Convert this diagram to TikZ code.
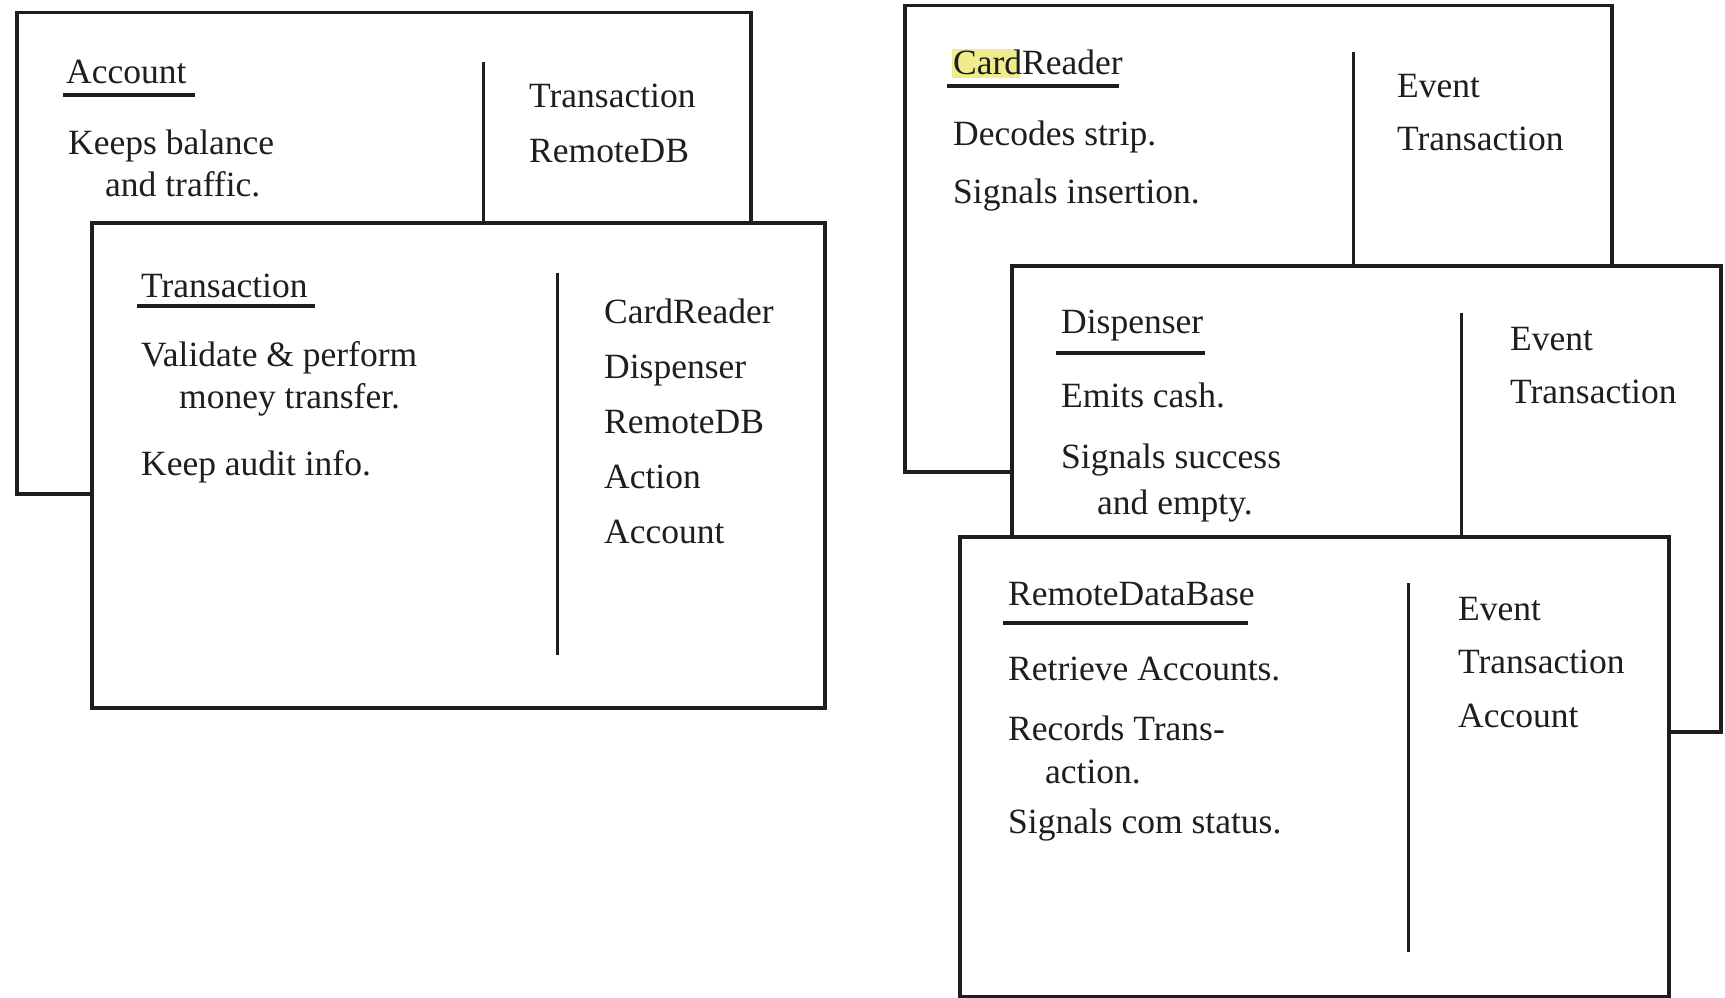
\documentclass[tikz,border=0pt]{standalone}
\usepackage{fontspec}
\setmainfont{Liberation Serif}
\definecolor{hilite}{HTML}{EEEC8C}
\definecolor{ink}{HTML}{1E1E1E}
\begin{document}
\begin{tikzpicture}[x=1pt,y=-1pt,
  card/.style={draw=ink,fill=white,line width=3.5pt,inner sep=0pt,anchor=north west},
  divider/.style={draw=ink,line width=3pt},
  uline/.style={draw=ink,line width=3.6pt},
  txt/.style={anchor=base west,inner sep=0pt,text=ink,font=\fontsize{35.5}{42}\selectfont}]
\useasboundingbox (0,0) rectangle (1725,998);
\fill[white] (0,0) rectangle (1725,998);

% ---------- Account card ----------
\node[card,minimum width=734pt,minimum height=481pt] (acc) at (15,11) {};
\coordinate (accDt) at (483,62);
\coordinate (accDb) at (483,221);
\draw[divider] (accDt) -- (accDb);
\node[txt] (accT) at (66,84) {Account};
\coordinate (accU1) at (63,95); \coordinate (accU2) at (195,95);
\draw[uline] (accU1) -- (accU2);
\node[txt] (acc1) at (68,154) {Keeps balance};
\node[txt] (acc2) at (105,196) {and traffic.};
\node[txt] (accR1) at (529,107) {Transaction};
\node[txt] (accR2) at (529,162) {RemoteDB};

% ---------- Transaction card ----------
\node[card,minimum width=733pt,minimum height=485pt] (tra) at (90,221) {};
\coordinate (traDt) at (557,273);
\coordinate (traDb) at (557,655);
\draw[divider] (traDt) -- (traDb);
\node[txt] (traT) at (141,297) {Transaction};
\coordinate (traU1) at (137,306); \coordinate (traU2) at (315,306);
\draw[uline] (traU1) -- (traU2);
\node[txt] (tra1) at (141,366) {Validate \& perform};
\node[txt] (tra2) at (179,408) {money transfer.};
\node[txt] (tra3) at (141,475) {Keep audit info.};
\node[txt] (traR1) at (604,323) {CardReader};
\node[txt] (traR2) at (604,378) {Dispenser};
\node[txt] (traR3) at (604,433) {RemoteDB};
\node[txt] (traR4) at (604,488) {Action};
\node[txt] (traR5) at (604,543) {Account};

% ---------- CardReader card ----------
\node[card,minimum width=707pt,minimum height=466pt] (crd) at (903,4) {};
\coordinate (crdDt) at (1353,52);
\coordinate (crdDb) at (1353,264);
\draw[divider] (crdDt) -- (crdDb);
\fill[hilite] (952,49) rectangle (1020,78);
\node[txt] (crdT) at (953,75) {CardReader};
\coordinate (crdU1) at (947,86); \coordinate (crdU2) at (1119,86);
\draw[uline] (crdU1) -- (crdU2);
\node[txt] (crd1) at (953,145) {Decodes strip.};
\node[txt] (crd2) at (953,203) {Signals insertion.};
\node[txt] (crdR1) at (1397,97) {Event};
\node[txt] (crdR2) at (1397,150) {Transaction};

% ---------- Dispenser card ----------
\node[card,minimum width=709pt,minimum height=466pt] (dsp) at (1010,264) {};
\coordinate (dspDt) at (1461,313);
\coordinate (dspDb) at (1461,536);
\draw[divider] (dspDt) -- (dspDb);
\node[txt] (dspT) at (1061,333) {Dispenser};
\coordinate (dspU1) at (1056,353); \coordinate (dspU2) at (1205,353);
\draw[uline] (dspU1) -- (dspU2);
\node[txt] (dsp1) at (1061,407) {Emits cash.};
\node[txt] (dsp2) at (1061,468) {Signals success};
\node[txt] (dsp3) at (1097,514) {and empty.};
\node[txt] (dspR1) at (1510,350) {Event};
\node[txt] (dspR2) at (1510,403) {Transaction};

% ---------- RemoteDataBase card ----------
\node[card,minimum width=709pt,minimum height=460pt] (rdb) at (958,535) {};
\coordinate (rdbDt) at (1408,583);
\coordinate (rdbDb) at (1408,952);
\draw[divider] (rdbDt) -- (rdbDb);
\node[txt] (rdbT) at (1008,605) {RemoteDataBase};
\coordinate (rdbU1) at (1003,623); \coordinate (rdbU2) at (1248,623);
\draw[uline] (rdbU1) -- (rdbU2);
\node[txt] (rdb1) at (1008,680) {Retrieve Accounts.};
\node[txt] (rdb2) at (1008,740) {Records Trans-};
\node[txt] (rdb3) at (1045,783) {action.};
\node[txt] (rdb4) at (1008,833) {Signals com status.};
\node[txt] (rdbR1) at (1458,620) {Event};
\node[txt] (rdbR2) at (1458,673) {Transaction};
\node[txt] (rdbR3) at (1458,727) {Account};
\end{tikzpicture}
\end{document}
